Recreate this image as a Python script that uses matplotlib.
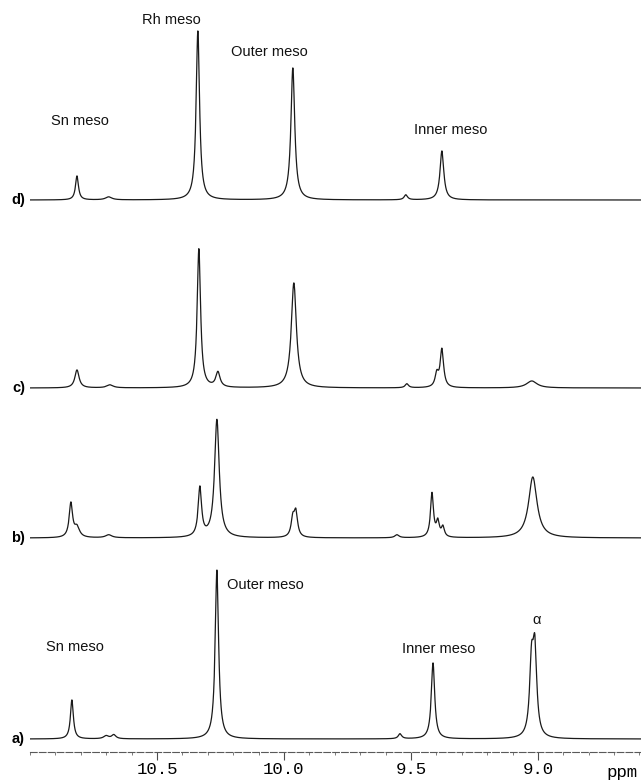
import numpy as np
import matplotlib
matplotlib.use("Agg")
import matplotlib.pyplot as plt
from matplotlib.ticker import FixedLocator, MultipleLocator

# peak lists: position (ppm), height, half width (ppm)
a_ppm = [10.835, 10.700, 10.670, 10.264, 9.543, 9.413, 9.025, 9.012]
a_height = [39, 3, 4, 169, 5, 76, 70, 82]
a_width = [0.007, 0.012, 0.010, 0.008, 0.008, 0.008, 0.009, 0.009]

b_ppm = [10.839, 10.815, 10.690, 10.331, 10.264, 9.965, 9.953, 9.555, 9.417, 9.394, 9.374, 9.020]
b_height = [34, 10, 3, 49, 118, 18, 24, 3, 44, 15, 10, 61]
b_width = [0.008, 0.012, 0.015, 0.008, 0.011, 0.008, 0.008, 0.010, 0.007, 0.007, 0.007, 0.020]

c_ppm = [10.815, 10.685, 10.335, 10.260, 9.961, 9.516, 9.398, 9.378, 9.024]
c_height = [18, 3, 139, 15, 105, 4, 13, 38, 7]
c_width = [0.010, 0.015, 0.008, 0.010, 0.012, 0.008, 0.008, 0.008, 0.025]

d_ppm = [10.815, 10.690, 10.339, 9.965, 9.520, 9.378]
d_height = [24, 3, 169, 132, 5, 49]
d_width = [0.007, 0.015, 0.008, 0.009, 0.008, 0.009]

trace_names = ["a)", "b)", "c)", "d)"]
trace_offsets = [13, 214, 364, 552]   # vertical stacking of the traces

tick_values = [10.5, 10.0, 9.5, 9.0]
tick_labels = ["10.5", "10.0", "9.5", "9.0"]

# annotations: text, ppm, height on the stacked axis
notes = [("Sn meso", 10.805, 631),
         ("Rh meso", 10.445, 732),
         ("Outer meso", 10.059, 700),
         ("Inner meso", 9.342, 622),
         ("Sn meso", 10.825, 105),
         ("Outer meso", 10.075, 167),
         ("Inner meso", 9.389, 103),
         ("\u03b1", 9.004, 132)]


def spectrum(x, ppm, height, width):
    y = np.zeros_like(x)
    for p, h, w in zip(ppm, height, width):
        y += h * w**2 / ((x - p)**2 + w**2)
    return y


x = np.linspace(8.59, 11.0, 5000)
traces = [(a_ppm, a_height, a_width), (b_ppm, b_height, b_width),
          (c_ppm, c_height, c_width), (d_ppm, d_height, d_width)]

fig = plt.figure(figsize=(6.41, 7.82), dpi=100)
ax = fig.add_axes([30 / 641, 30 / 782, 611 / 641, 752 / 782])

for (p, h, w), name, off in zip(traces, trace_names, trace_offsets):
    ax.plot(x, spectrum(x, p, h, w) + off, color="#1a1a1a", linewidth=0.9)
    ax.text(11.02, off, name, ha="right", va="center", fontsize=10.5,
            fontweight="bold", family="Liberation Sans", clip_on=False)

for txt, px, py in notes:
    ax.text(px, py, txt, ha="center", va="center", fontsize=10.5,
            family="Liberation Sans", color="#111111")

ax.set_xlim(11.0, 8.594)
ax.set_ylim(0, 752)

for s in ["top", "left", "right"]:
    ax.spines[s].set_visible(False)
ax.spines["bottom"].set_linestyle((0, (6, 2)))
ax.spines["bottom"].set_color("0.35")
ax.spines["bottom"].set_linewidth(0.8)

ax.set_yticks([])
ax.xaxis.set_major_locator(FixedLocator(tick_values))
ax.set_xticklabels(tick_labels)
ax.xaxis.set_minor_locator(MultipleLocator(0.1))
ax.tick_params(axis="x", which="major", direction="out", length=5.5, width=0.8,
               color="0.3", pad=2, labelsize=12.5)
ax.tick_params(axis="x", which="minor", direction="out", length=2.5, width=0.6,
               color="0.4")
for lab in ax.get_xticklabels():
    lab.set_family("Liberation Mono")

ax.text(8.67, -21, "ppm", ha="center", va="center", fontsize=12.5,
        family="Liberation Mono", clip_on=False)

fig.savefig("out.png", dpi=100)
